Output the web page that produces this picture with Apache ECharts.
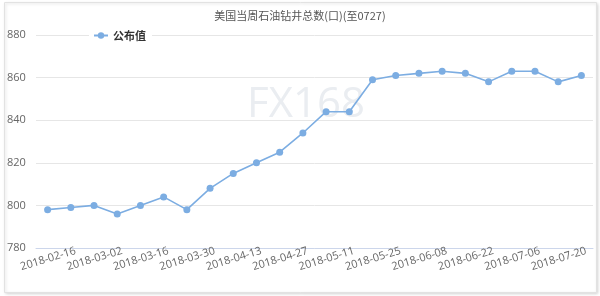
<!DOCTYPE html>
<html>
<head>
<meta charset="utf-8">
<script src="https://cdn.jsdelivr.net/npm/echarts@6/dist/echarts.min.js"></script>
<style>html,body{margin:0;padding:0;background:#fff}#c{width:600px;height:296px}</style>
</head>
<body>
<div id="c"></div>
<script>
var titleText = '美国当周石油钻井总数(口)(至0727)';
var seriesName = '公布值';
var categories = ['2018-02-16','2018-02-23','2018-03-02','2018-03-09','2018-03-16','2018-03-23','2018-03-30','2018-04-06','2018-04-13','2018-04-20','2018-04-27','2018-05-04','2018-05-11','2018-05-18','2018-05-25','2018-06-01','2018-06-08','2018-06-15','2018-06-22','2018-06-29','2018-07-06','2018-07-13','2018-07-20','2018-07-27'];
var values = [798,799,800,796,800,804,798,808,815,820,825,834,844,844,859,861,862,863,862,858,863,863,858,861];
var yMin = 780, yMax = 880, yStep = 20;

var chart = echarts.init(document.getElementById('c'));
chart.setOption({
  animation: false,
  backgroundColor: '#fff',
  graphic: [
    {type:'rect', left:4, top:2, shape:{width:592, height:290}, style:{fill:'#fff', stroke:'#e2e2e2', lineWidth:1, shadowBlur:3, shadowColor:'rgba(0,0,0,0.15)', shadowOffsetX:1, shadowOffsetY:1}, z:-10},
    {type:'text', left:247, top:84, style:{text:'FX168', font:'42px "Open Sans", sans-serif', fill:'#eaedf1'}, z:-5}
  ],
  title: {text: titleText, left:'center', top:5, textStyle:{fontSize:11, fontWeight:'normal', color:'#555', fontFamily:'"Noto Sans CJK SC", sans-serif'}},
  legend: {data:[seriesName], left:89, top:28, itemWidth:14, itemHeight:8, itemGap:3, padding:[2,6,2,4], backgroundColor:'#fff',
    textStyle:{fontSize:11, fontWeight:'bold', color:'#333', fontFamily:'"Noto Sans CJK SC", sans-serif'}},
  grid: {left:36, right:7, top:35, bottom:48},
  xAxis: {
    type:'category', data: categories, boundaryGap:true,
    axisLine:{lineStyle:{color:'#ccd6eb'}},
    axisTick:{interval:1, length:6, lineStyle:{color:'#ccd6eb'}},
    axisLabel:{
      interval:function(i){return i % 2 === 1;},
      formatter:function(v, i){return categories[i-1];},
      rotate:17, fontSize:11, color:'#666', margin:4, padding:[0,-5,0,0], fontFamily:'"Open Sans", sans-serif'
    }
  },
  yAxis: {
    type:'value', min:yMin, max:yMax, interval:yStep,
    axisLine:{show:false}, axisTick:{show:false},
    axisLabel:{fontSize:11, color:'#666', align:'left', margin:29, fontFamily:'"Open Sans", sans-serif'},
    splitLine:{lineStyle:{color:'#e6e6e6'}}
  },
  series: [{
    name: seriesName, type:'line', data: values,
    symbol:'circle', symbolSize:7,
    itemStyle:{color:'#7cade2'},
    lineStyle:{width:1.6, color:'#7cade2'}
  }]
});
</script>
</body>
</html>
